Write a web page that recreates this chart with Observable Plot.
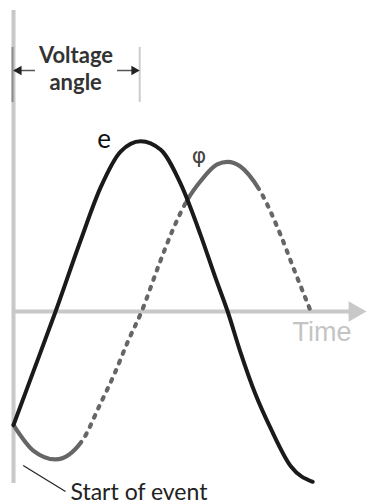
<!DOCTYPE html>
<html>
<head>
<meta charset="utf-8">
<script src="https://cdn.jsdelivr.net/npm/d3@7"></script>
<script src="https://cdn.jsdelivr.net/npm/@observablehq/plot@0.6"></script>
<style>
  html, body { margin: 0; padding: 0; background: #fff; }
  #chart svg { display: block; background: #fff; }
</style>
</head>
<body>
<div id="chart"></div>
<script>
// Time in electrical degrees from the start of the event; values in per-unit.
const eTime  = [0, 18, 44, 70, 91, 112, 133, 154, 175, 196, 211, 224, 237, 253, 269, 290, 313];
const eValue = [-0.66, -0.39, 0, 0.41, 0.72, 0.93, 0.99, 0.94, 0.74, 0.44, 0.20, 0, -0.23, -0.48, -0.68, -0.90, -0.99];

const phiTime  = [0, 21, 44, 72, 91, 105, 120, 134, 152, 167, 182, 196, 213, 224, 237, 258, 279, 293, 311];
const phiValue = [-0.66, -0.81, -0.86, -0.75, -0.535, -0.37, -0.17, 0, 0.27, 0.48, 0.65, 0.76, 0.855, 0.87, 0.845, 0.70, 0.45, 0.25, 0];

// Stretches of the φ curve drawn dashed (time ranges)
const phiDashedSpans = [[72, 182], [258, 311]];

// Voltage angle: from start of event to the peak of e
const voltageAngleSpan = [0, 132];

const labels = {
  e: "e",
  phi: "φ",
  time: "Time",
  angle1: "Voltage",
  angle2: "angle",
  start: "Start of event"
};

const eData = eTime.map((t, i) => ({t, v: eValue[i]}));
const phiData = phiTime.map((t, i) => ({t, v: phiValue[i]}));

const W = 370, H = 504;
const xDomain = [-13.6, 373.4];
const yDomain = [-1.122, 1.808];
const axisGray = "#c8c8c8";

// Build a dash pattern (in screen lengths) so that only the listed stretches are dashed.
// Round caps add half the stroke width at each dash end.
function phiDashArray() {
  const xs = Plot.scale({x: {domain: xDomain, range: [0, W]}});
  const ys = Plot.scale({y: {domain: yDomain, range: [H, 0]}});
  const pts = phiData.map(d => [xs.apply(d.t), ys.apply(d.v)]);
  const cum = [0];
  for (let i = 1; i < pts.length; i++) {
    cum.push(cum[i - 1] + Math.hypot(pts[i][0] - pts[i - 1][0], pts[i][1] - pts[i - 1][1]));
  }
  const total = cum[cum.length - 1];
  const lenAtT = (t) => {
    for (let i = 1; i < phiTime.length; i++) {
      if (t <= phiTime[i]) {
        const f = (t - phiTime[i - 1]) / (phiTime[i] - phiTime[i - 1]);
        return cum[i - 1] + f * (cum[i] - cum[i - 1]);
      }
    }
    return total;
  };
  const dash = 2.6, gap = 7.4;
  const arr = [];
  let pos = 0;
  const lastT = phiTime[phiTime.length - 1];
  for (const [a, b] of phiDashedSpans) {
    const la = lenAtT(a);
    const lb = b >= lastT ? total + 20 : lenAtT(b);
    arr.push(Math.max(0, la - pos));
    let p = la;
    while (p < lb) {
      const g = Math.min(gap, lb - p); arr.push(g); p += g;
      if (p >= lb) break;
      const d = Math.min(dash, lb - p); arr.push(d); p += d;
      if (p >= lb) { arr.push(0); break; }
    }
    pos = lb;
  }
  arr.push(Math.max(0, total - pos) + 40, 0);
  return arr.map(v => v.toFixed(2)).join(" ");
}

const chart = Plot.plot({
  width: W,
  height: H,
  margin: 0,
  x: {domain: xDomain, axis: null},
  y: {domain: yDomain, axis: null},
  style: {background: "#fff"},
  marks: [
    // vertical axis
    Plot.ruleX([0], {y1: 1.75, y2: -1.0, stroke: axisGray, strokeWidth: 4}),
    // time axis
    Plot.ruleY([0], {x1: 0, x2: 354.6, stroke: axisGray, strokeWidth: 4}),
    Plot.dot([0], {x: 356.7, y: 0, symbol: "triangle", r: 7.7, fill: axisGray, stroke: "none", rotate: 90}),
    Plot.text([labels.time], {x: 291.8, y: -0.172, text: d => d, textAnchor: "start", lineAnchor: "bottom",
      fontFamily: "Liberation Sans, Arial, sans-serif", fontSize: 27, fill: "#c4c4c4"}),

    // voltage angle bracket
    Plot.ruleX([voltageAngleSpan[0] - 1], {y1: 1.535, y2: 1.215, stroke: "#8c8c8c", strokeWidth: 2}),
    Plot.ruleX([voltageAngleSpan[1]], {y1: 1.535, y2: 1.215, stroke: "#cccccc", strokeWidth: 2}),
    Plot.ruleY([1.401], {x1: voltageAngleSpan[0] + 1, x2: 23, stroke: "#555", strokeWidth: 1.5}),
    Plot.ruleY([1.401], {x1: 108.8, x2: voltageAngleSpan[1] - 2, stroke: "#555", strokeWidth: 1.5}),
    Plot.dot([0], {x: voltageAngleSpan[0] + 5.5, y: 1.401, symbol: "triangle", r: 3.6, fill: "#222", stroke: "none", rotate: -90}),
    Plot.dot([0], {x: voltageAngleSpan[1] - 5.8, y: 1.401, symbol: "triangle", r: 3.6, fill: "#222", stroke: "none", rotate: 90}),
    Plot.text([labels.angle1], {x: 65.4, y: 1.442, text: d => d, textAnchor: "middle", lineAnchor: "bottom",
      fontFamily: "Lato, sans-serif", fontSize: 22, fontWeight: 700, fill: "#333"}),
    Plot.text([labels.angle2], {x: 65.0, y: 1.285, text: d => d, textAnchor: "middle", lineAnchor: "bottom",
      fontFamily: "Lato, sans-serif", fontSize: 22, fontWeight: 700, fill: "#333"}),

    // φ curve, dashed over the listed stretches
    Plot.line(phiData, {x: "t", y: "v", curve: "monotone-x", stroke: "#666666", strokeWidth: 4.2,
      strokeLinecap: "round", strokeDasharray: phiDashArray()}),
    // e curve
    Plot.line(eData, {x: "t", y: "v", curve: "monotone-x", stroke: "#1a1a1a", strokeWidth: 4, strokeLinecap: "round"}),

    Plot.text([labels.e], {x: 94.7, y: 0.948, text: d => d, textAnchor: "middle", lineAnchor: "bottom",
      fontFamily: "Lato, sans-serif", fontSize: 26, fill: "#111"}),
    Plot.text([labels.phi], {x: 194, y: 0.866, text: d => d, textAnchor: "middle", lineAnchor: "bottom",
      fontFamily: "DejaVu Sans, sans-serif", fontSize: 22, fill: "#444"}),

    // start of event
    Plot.link([0], {x1: 10.1, y1: -0.895, x2: 54.4, y2: -1.047, stroke: "#222", strokeWidth: 1.2}),
    Plot.text([labels.start], {x: 59.6, y: -1.093, text: d => d, textAnchor: "start", lineAnchor: "bottom",
      fontFamily: "Lato, sans-serif", fontSize: 23, fill: "#222"})
  ]
});

document.getElementById("chart").append(chart);
</script>
</body>
</html>
